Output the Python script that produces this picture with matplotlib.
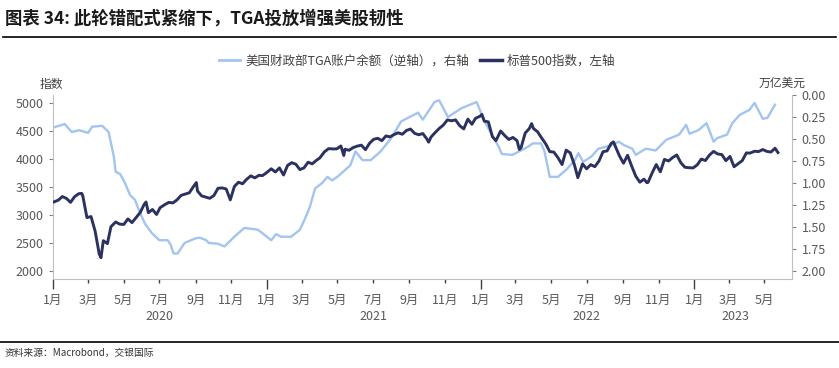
import pandas as pd
import matplotlib
matplotlib.use("Agg")
import matplotlib.pyplot as plt
import matplotlib.dates as mdates
from matplotlib.lines import Line2D
from matplotlib.ticker import FuncFormatter, MultipleLocator

plt.rcParams['font.family'] = ['Noto Sans CJK SC', 'DejaVu Sans']

# ---- S&P 500 (weekly, left axis) ----
spx_dates = [
    "2020-01-03", "2020-01-10", "2020-01-17", "2020-01-24", "2020-01-31", "2020-02-07", "2020-02-14",
    "2020-02-19", "2020-02-21", "2020-02-28", "2020-03-06", "2020-03-13", "2020-03-20", "2020-03-23",
    "2020-03-27", "2020-04-03", "2020-04-09", "2020-04-17", "2020-04-24", "2020-05-01", "2020-05-08",
    "2020-05-15", "2020-05-22", "2020-05-29", "2020-06-05", "2020-06-08", "2020-06-12", "2020-06-19",
    "2020-06-26", "2020-07-02", "2020-07-10", "2020-07-17", "2020-07-24", "2020-07-31", "2020-08-07",
    "2020-08-14", "2020-08-21", "2020-08-28", "2020-09-02", "2020-09-04", "2020-09-11", "2020-09-18",
    "2020-09-25", "2020-10-02", "2020-10-09", "2020-10-16", "2020-10-23", "2020-10-30", "2020-11-06",
    "2020-11-13", "2020-11-20", "2020-11-27", "2020-12-04", "2020-12-11", "2020-12-18", "2020-12-24",
    "2020-12-31",
    "2021-01-08", "2021-01-15", "2021-01-22", "2021-01-29", "2021-02-05", "2021-02-12", "2021-02-19",
    "2021-02-26", "2021-03-05", "2021-03-12", "2021-03-19", "2021-03-26", "2021-04-01", "2021-04-09",
    "2021-04-16", "2021-04-23", "2021-04-30", "2021-05-07", "2021-05-12", "2021-05-14", "2021-05-21",
    "2021-05-28", "2021-06-04", "2021-06-11", "2021-06-18", "2021-06-25", "2021-07-02", "2021-07-09",
    "2021-07-16", "2021-07-23", "2021-07-30", "2021-08-06", "2021-08-13", "2021-08-20", "2021-08-27",
    "2021-09-03", "2021-09-10", "2021-09-17", "2021-09-24", "2021-10-01", "2021-10-04", "2021-10-08",
    "2021-10-15", "2021-10-22", "2021-10-29", "2021-11-05", "2021-11-12", "2021-11-19", "2021-11-26",
    "2021-12-03", "2021-12-10", "2021-12-17", "2021-12-23", "2021-12-31",
    "2022-01-03", "2022-01-07", "2022-01-14", "2022-01-21", "2022-01-27", "2022-02-04", "2022-02-11",
    "2022-02-18", "2022-02-25", "2022-03-04", "2022-03-08", "2022-03-11", "2022-03-18", "2022-03-25",
    "2022-03-29", "2022-04-01", "2022-04-08", "2022-04-14", "2022-04-22", "2022-04-29", "2022-05-06",
    "2022-05-13", "2022-05-20", "2022-05-27", "2022-06-03", "2022-06-10", "2022-06-16", "2022-06-24",
    "2022-07-01", "2022-07-08", "2022-07-15", "2022-07-22", "2022-07-29", "2022-08-05", "2022-08-12",
    "2022-08-16", "2022-08-19", "2022-08-26", "2022-09-02", "2022-09-09", "2022-09-16", "2022-09-23",
    "2022-09-30", "2022-10-07", "2022-10-12", "2022-10-14", "2022-10-21", "2022-10-28", "2022-11-04",
    "2022-11-11", "2022-11-18", "2022-11-25", "2022-12-02", "2022-12-09", "2022-12-16", "2022-12-23",
    "2022-12-30",
    "2023-01-06", "2023-01-13", "2023-01-20", "2023-01-27", "2023-02-03", "2023-02-10", "2023-02-17",
    "2023-02-24", "2023-03-03", "2023-03-10", "2023-03-17", "2023-03-24", "2023-03-31", "2023-04-06",
    "2023-04-14", "2023-04-21", "2023-04-28", "2023-05-05", "2023-05-12", "2023-05-19", "2023-05-24",
]
spx_values = [
    3235, 3265, 3330, 3295, 3226, 3328, 3380,
    3386, 3338, 2954, 2972, 2711, 2305, 2237,
    2541, 2489, 2790, 2875, 2837, 2831, 2930,
    2864, 2955, 3044, 3194, 3232, 3041, 3098,
    3009, 3130, 3185, 3225, 3216, 3271, 3351,
    3373, 3397, 3508, 3580, 3427, 3341, 3319,
    3298, 3348, 3477, 3484, 3465, 3270, 3510,
    3585, 3558, 3638, 3699, 3663, 3709, 3703,
    3756,
    3825, 3768, 3841, 3714, 3887, 3934, 3907,
    3811, 3842, 3943, 3913, 3975, 4020, 4129,
    4185, 4180, 4181, 4233, 4063, 4174, 4156,
    4204, 4230, 4247, 4166, 4281, 4352, 4370,
    4327, 4412, 4395, 4437, 4468, 4442, 4509,
    4535, 4459, 4433, 4455, 4357, 4300, 4391,
    4471, 4545, 4605, 4698, 4683, 4698, 4595,
    4538, 4712, 4620, 4725, 4766,
    4796, 4677, 4663, 4398, 4327, 4500, 4419,
    4349, 4385, 4329, 4170, 4204, 4463, 4543,
    4632, 4546, 4488, 4393, 4272, 4132, 4123,
    4024, 3901, 4158, 4109, 3901, 3667, 3912,
    3825, 3899, 3863, 3962, 4130, 4145, 4280,
    4305, 4228, 4058, 3924, 4067, 3873, 3693,
    3586, 3640, 3577, 3583, 3753, 3901, 3771,
    3993, 3965, 4026, 4072, 3934, 3852, 3845,
    3840,
    3895, 3999, 3973, 4071, 4136, 4090, 4079,
    3970, 4046, 3862, 3917, 3971, 4109, 4105,
    4138, 4133, 4169, 4136, 4124, 4192, 4115,
]

# ---- US Treasury General Account balance, trillion USD (right axis, inverted) ----
tga_dates = [
    "2020-01-01", "2020-01-21", "2020-02-02", "2020-02-15", "2020-03-01", "2020-03-08", "2020-03-25",
    "2020-04-05", "2020-04-14", "2020-04-17", "2020-04-25", "2020-05-03", "2020-05-12", "2020-05-20",
    "2020-05-27", "2020-06-06", "2020-06-18", "2020-07-01", "2020-07-15", "2020-07-20", "2020-07-25",
    "2020-08-01", "2020-08-13", "2020-08-31", "2020-09-08", "2020-09-19", "2020-09-23", "2020-10-09",
    "2020-10-20", "2020-11-06", "2020-11-23", "2020-12-16", "2020-12-24",
    "2021-01-08", "2021-01-16", "2021-01-25", "2021-02-11", "2021-02-26", "2021-03-07", "2021-03-15",
    "2021-03-24", "2021-04-05", "2021-04-14", "2021-04-22", "2021-05-01", "2021-05-23", "2021-06-01",
    "2021-06-13", "2021-06-27", "2021-07-14", "2021-08-01", "2021-08-18", "2021-09-16", "2021-09-24",
    "2021-10-14", "2021-10-22", "2021-11-06", "2021-11-29", "2021-12-25",
    "2022-01-09", "2022-02-01", "2022-02-06", "2022-02-24", "2022-03-11", "2022-03-22", "2022-03-31",
    "2022-04-14", "2022-04-20", "2022-04-29", "2022-05-13", "2022-05-27", "2022-06-11", "2022-06-17",
    "2022-06-25", "2022-07-09", "2022-07-21", "2022-08-13", "2022-08-25", "2022-09-03", "2022-09-17",
    "2022-09-23", "2022-10-10", "2022-10-27", "2022-11-14", "2022-12-06", "2022-12-18", "2022-12-24",
    "2023-01-08", "2023-01-22", "2023-02-03", "2023-02-09", "2023-02-26", "2023-03-07", "2023-03-19",
    "2023-03-27", "2023-04-05", "2023-04-14", "2023-04-28", "2023-05-06", "2023-05-19",
]
tga_values = [
    0.37, 0.33, 0.42, 0.40, 0.43, 0.36, 0.35,
    0.42, 0.70, 0.87, 0.90, 1.00, 1.14, 1.19,
    1.31, 1.46, 1.57, 1.65, 1.65, 1.70, 1.80,
    1.80, 1.68, 1.63, 1.62, 1.65, 1.68, 1.69,
    1.72, 1.61, 1.51, 1.53, 1.57,
    1.65, 1.58, 1.61, 1.61, 1.53, 1.40, 1.27,
    1.06, 1.00, 0.93, 0.97, 0.93, 0.80, 0.64,
    0.74, 0.74, 0.64, 0.49, 0.30, 0.20, 0.28,
    0.08, 0.06, 0.25, 0.15, 0.08,
    0.32, 0.59, 0.67, 0.68, 0.63, 0.59, 0.55,
    0.55, 0.64, 0.93, 0.93, 0.85, 0.74, 0.66,
    0.76, 0.70, 0.61, 0.57, 0.53, 0.57, 0.61,
    0.68, 0.61, 0.63, 0.51, 0.45, 0.34, 0.44,
    0.40, 0.32, 0.53, 0.49, 0.45, 0.32, 0.23,
    0.20, 0.17, 0.09, 0.27, 0.26, 0.11,
]

years = ["2020", "2021", "2022", "2023"]
year_centers = ["2020-07-01", "2021-07-01", "2022-07-01", "2023-03-12"]

title = "图表 34: 此轮错配式紧缩下，TGA投放增强美股韧性"
tga_label = "美国财政部TGA账户余额（逆轴），右轴"
spx_label = "标普500指数，左轴"
source = "资料来源：Macrobond，交银国际"

navy = "#2B325F"
lightblue = "#A3C4EE"
grey = "#595959"
spine_c = "#BFBFBF"

W, H = 839, 368
fig = plt.figure(figsize=(W / 100, H / 100), dpi=100)
ax = fig.add_axes([53 / W, 1 - 279 / H, (792 - 53) / W, (279 - 95) / H])
ax2 = ax.twinx()

ax.plot(pd.to_datetime(spx_dates), spx_values, color=navy, lw=2.1, zorder=3)
ax2.plot(pd.to_datetime(tga_dates), tga_values, color=lightblue, lw=1.7)
ax.set_zorder(ax2.get_zorder() + 1)
ax.patch.set_visible(False)

ax.set_xlim(pd.Timestamp("2020-01-01"), pd.Timestamp("2023-06-17"))
ax.set_ylim(1857, 5143)
ax2.set_ylim(2.09, 0.0)

ax.yaxis.set_major_locator(MultipleLocator(500))
ax2.yaxis.set_major_locator(MultipleLocator(0.25))
ax2.yaxis.set_major_formatter(FuncFormatter(lambda v, p: f"{v:.2f}"))

# x axis: long ticks at year starts, short ticks at odd months
ax.xaxis.set_major_locator(mdates.YearLocator())
ax.xaxis.set_major_formatter(FuncFormatter(lambda v, p: "1月"))
ax.xaxis.set_minor_locator(mdates.MonthLocator(bymonth=[3, 5, 7, 9, 11]))
ax.xaxis.set_minor_formatter(FuncFormatter(lambda v, p: f"{mdates.num2date(v).month}月"))
ax.tick_params(axis="x", which="major", length=7, width=1, color="#404040", pad=4,
               labelsize=9, labelcolor=grey)
ax.tick_params(axis="x", which="minor", length=3, width=1, color="#404040", pad=8,
               labelsize=9, labelcolor=grey)
ax.tick_params(axis="y", length=3, color="#808080", pad=4, labelsize=9, labelcolor=grey)
ax2.tick_params(axis="y", length=3, color="#808080", pad=4, labelsize=9, labelcolor=grey)

for a in (ax, ax2):
    a.spines["top"].set_visible(False)
    for s in ("left", "bottom", "right"):
        a.spines[s].set_color(spine_c)
ax.spines["right"].set_visible(False)
ax2.spines["left"].set_visible(False)
ax2.spines["bottom"].set_visible(False)

for yr, c in zip(years, year_centers):
    ax.text(pd.Timestamp(c), -37 / 184, yr, transform=ax.get_xaxis_transform(),
            ha="center", va="center", fontsize=9, color=grey)

fig.text(51 / W, 1 - 84 / H, "指数", ha="center", va="center", fontsize=8.5, color="#404040")
fig.text(782 / W, 1 - 83 / H, "万亿美元", ha="center", va="center", fontsize=8.5, color="#404040")

handles = [Line2D([], [], color=lightblue, lw=2), Line2D([], [], color=navy, lw=2.5)]
fig.legend(handles, [tga_label, spx_label], loc="center", bbox_to_anchor=(417 / W, 1 - 61 / H),
           ncol=2, frameon=False, fontsize=9, handlelength=1.7, handletextpad=0.4,
           columnspacing=0.9, labelcolor="#404040")

fig.text(5 / W, 1 - 19 / H, title, ha="left", va="center", fontsize=12.5, fontweight="bold",
         color="#1a1a1a")
fig.add_artist(Line2D([3 / W, 836 / W], [1 - 37 / H] * 2, color="black", lw=1.2))
fig.add_artist(Line2D([0, 1], [1 - 342 / H] * 2, color="black", lw=1.2))
fig.text(5 / W, 1 - 353 / H, source, ha="left", va="center", fontsize=7, style="italic",
         color="#333333")

fig.savefig("out.png", dpi=100)
